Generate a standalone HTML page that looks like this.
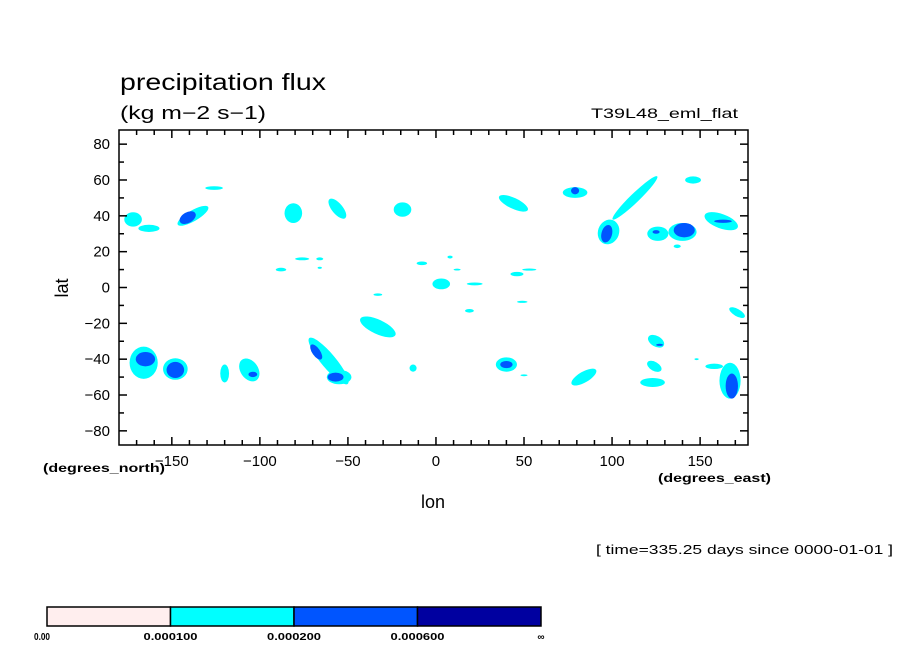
<!DOCTYPE html>
<html><head><meta charset="utf-8"><style>
body{margin:0;background:#fff;}
svg text{font-family:"Liberation Sans",sans-serif;fill:#000;}
</style></head><body>
<svg id="chart" width="904" height="654" xmlns="http://www.w3.org/2000/svg">
<text x="120" y="90" font-size="23" textLength="206" lengthAdjust="spacingAndGlyphs">precipitation flux</text>
<text x="120" y="119" font-size="18" textLength="146" lengthAdjust="spacingAndGlyphs">(kg m−2 s−1)</text>
<text x="591" y="118" font-size="14" textLength="147" lengthAdjust="spacingAndGlyphs">T39L48_eml_flat</text>
<defs><clipPath id="pc"><rect x="119" y="130" width="629" height="315"/></clipPath></defs>
<g id="plot" clip-path="url(#pc)"></g>
<rect x="119" y="130" width="629" height="315" fill="none" stroke="#000" stroke-width="1.5"/>
<g id="axes"></g>
<text transform="translate(68,288) rotate(-90)" font-size="18" text-anchor="middle">lat</text>
<text x="433" y="508" font-size="18" text-anchor="middle">lon</text>
<text x="43" y="472" font-size="12" font-weight="bold" textLength="122" lengthAdjust="spacingAndGlyphs">(degrees_north)</text>
<text x="658" y="482" font-size="12" font-weight="bold" textLength="113" lengthAdjust="spacingAndGlyphs">(degrees_east)</text>
<text x="596" y="554" font-size="13" textLength="297" lengthAdjust="spacingAndGlyphs">[ time=335.25 days since 0000-01-01 ]</text>
<g id="cbar"></g>
</svg>
<script>
const blobLon=[-172,-163,-138,-141,-126,-81,-56,-19,-76,-66,-88,-66,-8,3,-33,-33,-166,-165,-148,-148,-120,-106,-104,-61,-55,-68,-57,-13,44,79,79,98,113,97,126,125,140,141,162,163,146,137,40,40,84,125,127,124,123,167,158,168,171,46,53,22,12,49,19,8,50,148];
const blobLat=[38,33,40,39,55.5,41.5,44,43.5,16,16,10,11,13.5,2,-4,-22,-42,-40,-45.5,-46,-48,-46,-48.5,-41,-50,-36,-50,-45,47,53,54,31,50,30,30,31,31,32,37,37,60,23,-43,-43,-50,-30,-32,-44,-53,-52,-44,-55,-14,7.5,10,2,10,-8,-13,17,-49,-40];
const blobRx=[5,6,10,5,5,5,7,5,4,2,3,1.2,3,5,2.5,11,8,5.5,7,5,2.5,5,2.5,17,7,5,4.5,2,9,7,2.3,6,17.6,3,6,2,8,6,10,5,4.5,2,6,3.5,8,5,2,4.5,7,6,5,3.5,5,3.7,4,4.5,2,3,2.5,1.5,2,1.2];
const blobRy=[4,2,3,3,1,5.5,3,4,0.8,0.8,1,0.6,1,3,0.7,4,9,4,6,4.5,5,7,1.5,4,4,2.2,2.5,2,3,3,2,7,2.5,5,4,1,5,4,4,0.9,2,1,4,2,3,3,0.6,2.5,2.5,10,1.5,7,2,1.2,0.6,0.8,0.5,0.6,1,0.8,0.5,0.5];
const blobAngle=[0,0,-30,-30,0,0,50,0,0,0,0,0,0,0,0,25,0,0,0,0,0,-35,0,50,0,55,0,0,25,0,0,20,-44,15,0,0,0,0,20,0,0,0,0,0,-30,30,0,30,0,0,0,0,30,0,0,0,0,0,0,0,0,0];
const blobLevel=[1,1,1,2,1,1,1,1,1,1,1,1,1,1,1,1,1,2,1,2,1,1,2,1,1,2,2,1,1,1,2,1,1,2,1,2,1,2,1,2,1,1,1,2,1,1,2,1,1,1,1,2,1,1,1,1,1,1,1,1,1,1];
const levelColors=["#ffeeee","#00ffff","#0055ff","#0000a0"];
const yTicks=[80,60,40,20,0,-20,-40,-60,-80];
const xTicks=[-150,-100,-50,0,50,100,150];
const cbarLabels=["0.00","0.000100","0.000200","0.000600","∞"];
const NS="http://www.w3.org/2000/svg";
const lonMin=-180,lonMax=177.2,latMin=-87.9,latMax=87.9;
const X0=119,X1=748,Y0=130,Y1=445;
function sx(l){return X0+(l-lonMin)/(lonMax-lonMin)*(X1-X0);}
function sy(l){return Y1-(l-latMin)/(latMax-latMin)*(Y1-Y0);}
const kx=(X1-X0)/(lonMax-lonMin),ky=(Y1-Y0)/(latMax-latMin);
function mk(tag,attrs,parent){const e=document.createElementNS(NS,tag);for(const k in attrs)e.setAttribute(k,attrs[k]);parent.appendChild(e);return e;}
const plot=document.getElementById('plot');
[1,2,3].forEach(lv=>{
  blobLon.forEach((lo,i)=>{
    if(blobLevel[i]!==lv)return;
    const cx=sx(lo),cy=sy(blobLat[i]);
    const e=mk('ellipse',{cx:cx,cy:cy,rx:blobRx[i]*kx,ry:blobRy[i]*ky,fill:levelColors[lv],transform:`rotate(${blobAngle[i]} ${cx} ${cy})`},plot);
    
    
  });
});
const ax=document.getElementById('axes');
for(let la=-80;la<=80;la+=10){
  const y=sy(la),L=la%20===0?8:5;
  const a=mk('line',{x1:X0,x2:X0+L,y1:y,y2:y,stroke:'#000','stroke-width':1.5},ax);
  
  
  const b=mk('line',{x1:X1,x2:X1-L,y1:y,y2:y,stroke:'#000','stroke-width':1.5},ax);
  
  
}
for(let lo=-170;lo<=170;lo+=10){
  const x=sx(lo),L=lo%50===0?8:5;
  const a=mk('line',{x1:x,x2:x,y1:Y1,y2:Y1-L,stroke:'#000','stroke-width':1.5},ax);
  
  
  const b=mk('line',{x1:x,x2:x,y1:Y0,y2:Y0+L,stroke:'#000','stroke-width':1.5},ax);
  
  
}
yTicks.forEach(v=>{
  const t=mk('text',{x:110,y:sy(v)+5,'font-size':15,'text-anchor':'end'},ax);
  t.textContent=v<0?'−'+(-v):v;
  
  
});
xTicks.forEach(v=>{
  const t=mk('text',{x:sx(v),y:466,'font-size':15,'text-anchor':'middle'},ax);
  t.textContent=v<0?'−'+(-v):v;
  
  
});
const cb=document.getElementById('cbar');
const cw=(541-47)/4;
for(let i=0;i<4;i++){
  const r=mk('rect',{x:47+i*cw,y:607,width:cw,height:19,fill:levelColors[i],stroke:'#000','stroke-width':1.5},cb);
  
  
}
cbarLabels.forEach((s,i)=>{
  const attrs={x:i===0?34:(i===4?541:47+i*cw-27),y:640,'font-size':10,'font-weight':'bold','text-anchor':i===4?'middle':'start'};
  if(i>0&&i<4){attrs.textLength=54;attrs.lengthAdjust='spacingAndGlyphs';}
  if(i===0){attrs.textLength=16;attrs.lengthAdjust='spacingAndGlyphs';}
  const t=mk('text',attrs,cb);
  t.textContent=s;
  
  
});
</script>
</body></html>
